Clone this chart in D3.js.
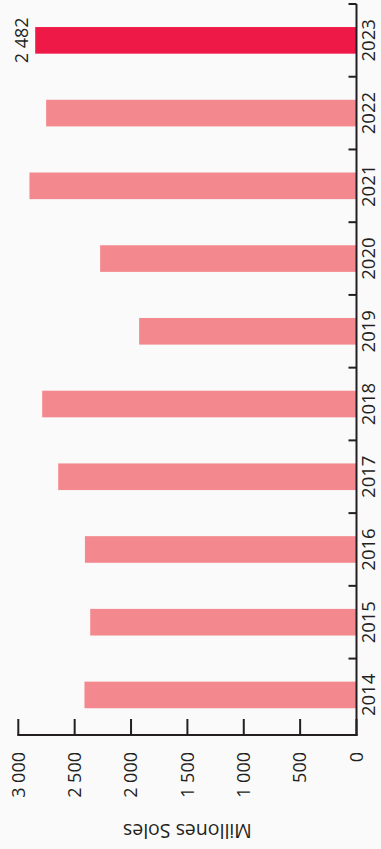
<!DOCTYPE html>
<html>
<head>
<meta charset="utf-8">
<script src="https://cdn.jsdelivr.net/npm/d3@7"></script>
<style>
  html, body { margin: 0; padding: 0; background: #fafafa; }
  svg { display: block; }
  text { font-family: "Open Sans", "Noto Sans", sans-serif; fill: #231f20; }
</style>
</head>
<body>
<svg id="chart" width="381" height="849"></svg>
<script>
const years = ["2014", "2015", "2016", "2017", "2018", "2019", "2020", "2021", "2022", "2023"];
const values = [2413, 2362, 2409, 2646, 2788, 1928, 2274, 2901, 2753, 2850];
const highlightYear = "2023";
const highlightLabel = "2 482";
const tickValues = [0, 500, 1000, 1500, 2000, 2500, 3000];
const tickLabels = ["0", "500", "1 000", "1 500", "2 000", "2 500", "3 000"];
const axisTitle = "Millones Soles";

const svg = d3.select("#chart");
const W = 381, H = 849;
svg.append("rect").attr("width", W).attr("height", H).attr("fill", "#fafafa");

const x = d3.scaleLinear().domain([0, 3000]).range([356.5, 18.3]);
const pi = 0.634;
const y = d3.scaleBand().domain(years).range([731.3, 4]).paddingInner(pi).paddingOuter(pi / 2);
const axisY = 735;
const axisColor = "#231f20";

// bars
svg.append("g").selectAll("rect").data(years).join("rect")
  .attr("x", (d, i) => x(values[i]))
  .attr("y", d => y(d))
  .attr("width", (d, i) => x(0) - x(values[i]))
  .attr("height", y.bandwidth())
  .attr("fill", d => d === highlightYear ? "#ee1946" : "#f3888e");

// value label
const hi = years.indexOf(highlightYear);
svg.append("text")
  .attr("transform", `translate(${x(values[hi]) - 14},${y(highlightYear) + y.bandwidth() / 2}) rotate(-90)`)
  .attr("text-anchor", "middle")
  .attr("dy", "0.35em")
  .attr("font-size", 18)
  .text(highlightLabel);

// category axis (vertical, right)
const step = y.step();
svg.append("line")
  .attr("x1", x(0)).attr("x2", x(0))
  .attr("y1", 4).attr("y2", axisY + 1)
  .attr("stroke", axisColor).attr("stroke-width", 2);
svg.append("g").selectAll("line").data(years).join("line")
  .attr("x1", x(0) - 8).attr("x2", x(0))
  .attr("y1", d => y(d) - step * pi / 2)
  .attr("y2", d => y(d) - step * pi / 2)
  .attr("stroke", axisColor).attr("stroke-width", 2);
svg.append("g").selectAll("text").data(years).join("text")
  .attr("transform", d => `translate(369,${y(d) + y.bandwidth() / 2}) rotate(-90)`)
  .attr("text-anchor", "middle")
  .attr("dy", "0.35em")
  .attr("font-size", 18.5)
  .text(d => d);

// value axis (horizontal, bottom)
svg.append("line")
  .attr("x1", x(3000) - 1).attr("x2", x(0) + 1)
  .attr("y1", axisY).attr("y2", axisY)
  .attr("stroke", axisColor).attr("stroke-width", 2);
svg.append("g").selectAll("line").data(tickValues).join("line")
  .attr("x1", d => x(d)).attr("x2", d => x(d))
  .attr("y1", axisY - 16).attr("y2", axisY)
  .attr("stroke", axisColor).attr("stroke-width", 2);
svg.append("g").selectAll("text").data(tickValues).join("text")
  .attr("transform", d => `translate(${x(d)},752) rotate(-90)`)
  .attr("text-anchor", "end")
  .attr("dy", "0.35em")
  .attr("font-size", 18)
  .text((d, i) => tickLabels[i]);

// axis title (upside down)
svg.append("text")
  .attr("transform", `translate(${(x(0) + x(3000)) / 2},831) rotate(180)`)
  .attr("text-anchor", "middle")
  .attr("dy", "0.35em")
  .attr("font-size", 19.5)
  .text(axisTitle);
</script>
</body>
</html>
